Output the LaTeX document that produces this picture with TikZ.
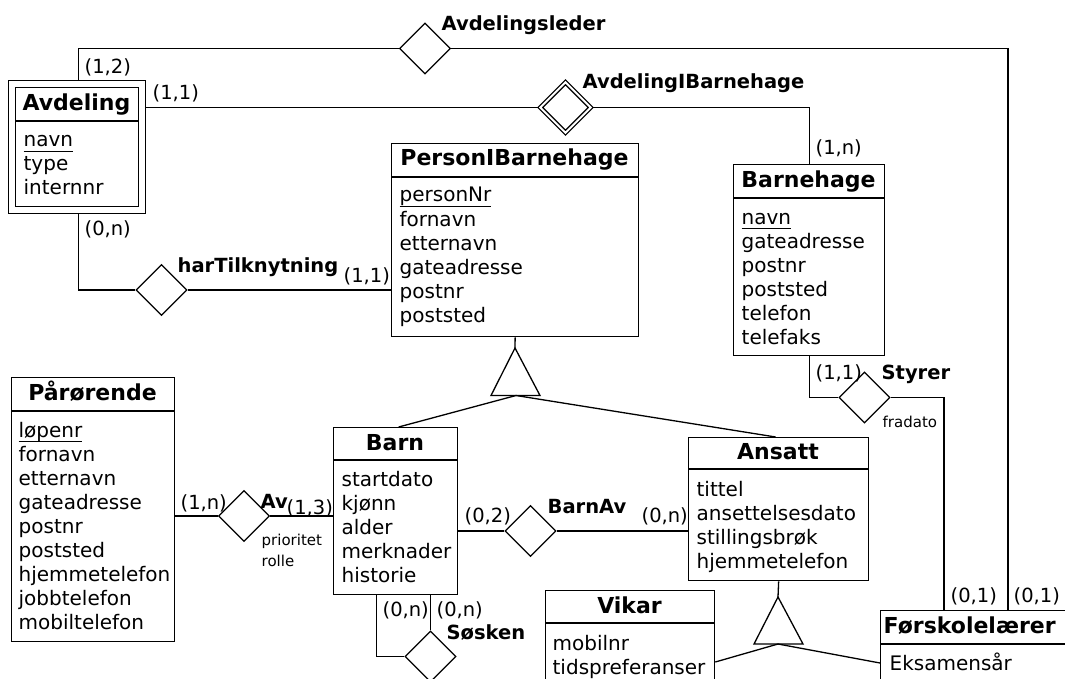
\documentclass[tikz,border=0pt]{standalone}
\usepackage{fontspec}
\setmainfont{DejaVu Sans}
\usetikzlibrary{shapes.geometric,calc}
\newcommand{\ulk}[1]{\setbox0\hbox{#1}\rlap{\rule[-4.8pt]{\wd0}{1.1pt}}\box0}
\tikzset{
  ebox/.style={draw, rectangle, anchor=north west, inner sep=0pt},
  etitle/.style={font=\fontsize{22}{24}\selectfont\bfseries, anchor=base, inner sep=0pt},
  attr/.style={font=\fontsize{20}{24}\selectfont, anchor=base west, inner sep=0pt},
  card/.style={font=\fontsize{19.5}{22}\selectfont, anchor=base west, inner sep=0pt},
  rlab/.style={font=\fontsize{19.5}{22}\selectfont\bfseries, anchor=base west, inner sep=0pt},
  small/.style={font=\fontsize{15}{17}\selectfont, anchor=base west, inner sep=0pt},
  rel/.style={draw, diamond, minimum width=51pt, minimum height=51pt, inner sep=0pt, fill=white},
  wrel/.style={rel, double, double distance=2pt}
}
\begin{document}
\begin{tikzpicture}[x=1pt,y=-1pt,line width=1.3pt]
\clip (0,0) rectangle (1065,679);
\fill[white] (0,0) rectangle (1065,679);

% ---------- Avdeling (weak entity) ----------
\node[ebox, minimum width=137pt, minimum height=133pt] (avdO) at (8,80) {};
\node[ebox, minimum width=123pt, minimum height=119pt] (avdI) at (15,87) {};
\draw (15,121) -- (138,121);
\node[etitle] (avdT) at (76.5,111) {Avdeling};
\foreach \t [count=\i from 0] in {{\ulk{navn}},type,internnr}
  \node[attr] (avd-a\i) at (23,147+24*\i) {\t};

% ---------- PersonIBarnehage ----------
\node[ebox, minimum width=247pt, minimum height=193pt] (pib) at (391,143) {};
\draw (391,177) -- (638,177);
\node[etitle] (pibT) at (514.5,166) {PersonIBarnehage};
\foreach \t [count=\i from 0] in {{\ulk{personNr}},fornavn,etternavn,gateadresse,postnr,poststed}
  \node[attr] (pib-a\i) at (399,202+24*\i) {\t};

% ---------- Barnehage ----------
\node[ebox, minimum width=151pt, minimum height=191pt] (bh) at (733,164) {};
\draw (733,198) -- (884,198);
\node[etitle] (bhT) at (808.5,188) {Barnehage};
\foreach \t [count=\i from 0] in {{\ulk{navn}},gateadresse,postnr,poststed,telefon,telefaks}
  \node[attr] (bh-a\i) at (741,224+24*\i) {\t};

% ---------- Pårørende ----------
\node[ebox, minimum width=163pt, minimum height=264pt] (par) at (11,377) {};
\draw (11,411) -- (174,411);
\node[etitle] (parT) at (92.5,400) {Pårørende};
\foreach \t [count=\i from 0] in {{\ulk{løpenr}},fornavn,etternavn,gateadresse,postnr,poststed,hjemmetelefon,jobbtelefon,mobiltelefon}
  \node[attr] (par-a\i) at (18,437+24*\i) {\t};

% ---------- Barn ----------
\node[ebox, minimum width=124pt, minimum height=167pt] (barn) at (333,427) {};
\draw (333,460) -- (457,460);
\node[etitle] (barnT) at (395,450) {Barn};
\foreach \t [count=\i from 0] in {startdato,kjønn,alder,merknader,historie}
  \node[attr] (barn-a\i) at (341,486+24*\i) {\t};

% ---------- Ansatt ----------
\node[ebox, minimum width=180pt, minimum height=143pt] (ans) at (688,437) {};
\draw (688,469) -- (868,469);
\node[etitle] (ansT) at (778,459) {Ansatt};
\foreach \t [count=\i from 0] in {tittel,ansettelsesdato,stillingsbrøk,hjemmetelefon}
  \node[attr] (ans-a\i) at (696,496+24*\i) {\t};

% ---------- Vikar ----------
\node[ebox, minimum width=169pt, minimum height=120pt] (vik) at (545,590) {};
\draw (545,623) -- (714,623);
\node[etitle] (vikT) at (629.5,613) {Vikar};
\foreach \t [count=\i from 0] in {mobilnr,tidspreferanser}
  \node[attr] (vik-a\i) at (552,650+24*\i) {\t};

% ---------- Førskolelærer ----------
\node[ebox, minimum width=200pt, minimum height=100pt] (fl) at (880,610) {};
\draw (880,644) -- (1080,644);
\node[etitle, anchor=base west] (flT) at (883,633) {Førskolelærer};
\node[attr] (fl-a0) at (889,670) {Eksamensår};

% ---------- relationships ----------
\node[rel] (al) at (425,48.5) {};
\node[wrel] (aib) at (565.5,107.5) {};
\node[rel] (ht) at (161.5,290) {};
\node[rel] (av) at (244,516) {};
\node[rel] (ba) at (530.5,531) {};
\node[rel] (sos) at (430.5,656.5) {};
\node[rel] (sty) at (864.5,397.5) {};

% ---------- ISA triangles ----------
\coordinate (t1a) at (515,348);
\coordinate (t1b) at (516,395.5);
\draw (t1a) -- (491,395.5) -- (540,395.5) -- cycle;
\coordinate (t2a) at (778,597);
\coordinate (t2b) at (778,644);
\draw (t2a) -- (754,644) -- (803,644) -- cycle;

% ---------- coordinates on Førskolelærer top ----------
\coordinate (flA) at (1008,610);
\coordinate (flB) at (944,610);

% ---------- connectors ----------
\draw ($(avdO.north)+(1.5,0)$) |- (al.west);
\draw (al.east) -| (flA);
\draw (avdO.east |- aib) -- (aib.west);
\draw (aib.east) -| (bh.north);
\draw ($(avdO.south)+(1.5,0)$) |- (ht.west);
\draw (ht.east) -- (pib.west |- ht);
\draw (pib.south) -- (t1a);
\draw (t1b) -- ($(barn.north)+(3,0)$);
\draw (t1b) -- ($(ans.north)+(-3,0)$);
\draw (par.east |- av) -- (av.west);
\draw (av.east) -- (barn.west |- av);
\draw (barn.east |- ba) -- (ba.west);
\draw (ba.east) -- (ans.west |- ba);
\draw (barn.south -| sos.north) -- (sos.north);
\draw ($(barn.south)+(-19,0)$) |- (sos.west);
\draw (ans.south) -- (t2a);
\draw (t2b) -- ($(vik.north east)+(0,72)$);
\draw (t2b) -- ($(fl.north west)+(0,53)$);
\draw (bh.south) |- (sty.west);
\draw (sty.east) -| (flB);

% ---------- labels ----------
\node[card] (c1) at (84,74) {(1,2)};
\node[card] (c2) at (152,100) {(1,1)};
\node[card] (c3) at (84,236) {(0,n)};
\node[card] (c4) at (343,282) {(1,1)};
\node[card] (c5) at (815,155) {(1,n)};
\node[card] (c6) at (180,509) {(1,n)};
\node[card] (c7) at (286,514) {(1,3)};
\node[card] (c8) at (464,522) {(0,2)};
\node[card] (c9) at (641,522) {(0,n)};
\node[card] (c10) at (382,616) {(0,n)};
\node[card] (c11) at (436,616) {(0,n)};
\node[card] (c12) at (815,379) {(1,1)};
\node[card] (c13) at (950,602) {(0,1)};
\node[card] (c14) at (1013,602) {(0,1)};

\node[rlab] (l1) at (441,31) {Avdelingsleder};
\node[rlab] (l2) at (582,89) {AvdelingIBarnehage};
\node[rlab] (l3) at (177,272) {harTilknytning};
\node[rlab] (l4) at (260,508) {Av};
\node[rlab] (l5) at (547,513) {BarnAv};
\node[rlab] (l6) at (446,639) {Søsken};
\node[rlab] (l7) at (881,379) {Styrer};

\node[small] (s1) at (261,545) {prioritet};
\node[small] (s2) at (261,566) {rolle};
\node[small] (s3) at (882,427) {fradato};
\end{tikzpicture}
\end{document}
